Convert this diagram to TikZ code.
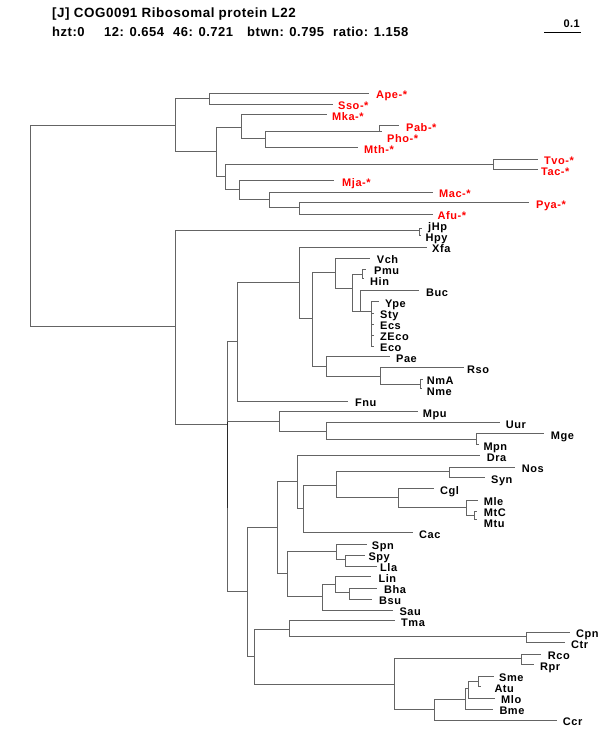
\documentclass[tikz,border=0pt]{standalone}
\usepackage{fontspec}
\setmainfont{Liberation Sans}
\newfontfamily\labfam[LetterSpace=5]{Liberation Sans}
\newfontfamily\headfam[LetterSpace=4]{Liberation Sans}
\definecolor{brgray}{RGB}{100,100,100}
\definecolor{brdark}{RGB}{40,40,40}
\tikzset{
  brline/.style={draw=brgray, line width=1.6pt},
  brdk/.style={draw=brdark, line width=1.6pt},
  lab/.style={anchor=base west, inner sep=0pt, font=\labfam\bfseries\fontsize{11}{13}\selectfont},
  arclab/.style={lab, text=red},
  baclab/.style={lab, text=black},
  head/.style={anchor=base west, inner sep=0pt, font=\headfam\bfseries\fontsize{13}{15}\selectfont},
}
\begin{document}
\begin{tikzpicture}[x=1pt,y=-1pt]
\fill[white] (0,0) rectangle (600,750);
\useasboundingbox (0,0) rectangle (600,750);

% header
\node[head, font=\headfam\bfseries\fontsize{13.4}{15}\selectfont] (title) at (52,17) {[J] COG0091 Ribosomal protein L22};
\node[head] (h1) at (52,36) {hzt:0};
\node[head] (h2) at (104,36) {12: 0.654};
\node[head] (h3) at (173,36) {46: 0.721};
\node[head] (h4) at (247,36) {btwn: 0.795};
\node[head] (h5) at (333,36) {ratio: 1.158};
\coordinate (s1) at (544,32.5);
\coordinate (s2) at (581,32.5);
\draw[black, line width=1pt] (s1) -- (s2);
\node[anchor=base east, inner sep=0pt, font=\headfam\bfseries\fontsize{11}{13}\selectfont] (scl) at (580,27) {0.1};

% internal nodes
\foreach \n/\x/\y in {root/30/226, arch/175/125, bact/175/326.7,
  nAS/209/98.7, nA2/216/151.7, nMka/241/127, nPPM/265/138.7, nPP/379/131,
  nTvo/225.3/176.7, nTT/493.3/164, nMja/239/189.7, nMac/269/199.7, nPA/299/207.3,
  nHp/419.3/230, nB2/227.7/424, nProt/237.7/341.7, nXfa/299.3/282.7, nG/312.3/318.3,
  nVch/335.7/272.7, nEnt/352.7/288, nPH/362.5/274.7, nBuc/360.7/311, nYpe/371.7/311,
  nPae/326/366, nRso/380/376, nNm/420/384,
  nMoll/279/421, nUur/326/431, nMge/476.7/439,
  nGP/247.7/591.7, nFirm/277.7/527.7, nDra/297.3/481.7, nCy/303.3/508.3, nCA/336/485,
  nNS/449/471.7, nCgl/398.3/497.3, nMy/466/507.3, nMt/474.3/515.3,
  nLow/287.3/573.3, nStr/336/551.7, nSL/345/559.3, nBac/322.3/596.7, nLin/335/584.3, nBB/349/592.7,
  nTR/254.3/656, nTma/289/629, nCh/526/636.7, nAlpha/394.3/684, nRick/521/658.3,
  nAl2/434/709, nRh/465/699, nRh2/468/688.5, nSA/478.3/681,
  dk1/227.7/421, dk2/227.7/507}
  {\coordinate (\n) at ({floor(\x)+0.5},{floor(\y)+0.5});}

% leaf ends
\foreach \n/\x/\y in {Ape/368/93.3, Sso/332/104, Mka/326/114.3, Pab/398/125.7, Pho/381/131.7,
  Mth/357/147.7, Tvo/537/159, Tac/537/169.3, Mja/333/180.7, Mac/432/192, Pya/528.3/202.7,
  Afu/432/214, jHp/421.5/228.5, Hpy/420.5/235.5, Xfa/426/247.3, Vch/369/258.3,
  Pmu/365.5/269.3, Hin/363.5/278.5, Buc/418.3/290.7, Ype/378.3/301.7, Sty/373.5/313,
  Ecs/373.5/324, ZEco/373.5/335, Eco/373.5/346.5, Pae/389.3/356.7, Rso/463.3/367.7,
  NmA/422/379.5, Nme/421/388.5, Fnu/347.7/401, Mpu/417.7/411.7, Uur/499/422.3,
  Mge/543.3/433.3, Mpn/478.5/444, Dra/479.3/455.7, Nos/514.3/467.3, Syn/484/477.7,
  Cgl/433.3/488.3, Mle/477.5/500, MtC/476.5/511.5, Mtu/476/519.5, Cac/412.7/532.7,
  Spn/366.5/544, Spy/364.5/555.3, Lla/376/566, Lin/370/576.7, Bha/376.7/588.3,
  Bsu/371.7/599, Sau/392.7/610, Tma/394/620.7, Cpn/569.3/632.3, Ctr/564.3/642.7,
  Rco/540/654, Rpr/533.3/664.3, Sme/493.3/676, Atu/480.5/686.5, Mlo/494/698.3,
  Bme/492.7/709, Ccr/556/720}
  {\coordinate (l-\n) at ({floor(\x)+0.5},{floor(\y)+0.5});}

% branches
\foreach \p/\c in {root/arch, root/bact,
  arch/nAS, arch/nA2, nAS/l-Ape, nAS/l-Sso,
  nA2/nMka, nA2/nTvo, nMka/l-Mka, nMka/nPPM, nPPM/nPP, nPPM/l-Mth,
  nPP/l-Pab, nPP/l-Pho, nTvo/nTT, nTvo/nMja, nTT/l-Tvo, nTT/l-Tac,
  nMja/l-Mja, nMja/nMac, nMac/l-Mac, nMac/nPA, nPA/l-Pya, nPA/l-Afu,
  bact/nHp, bact/nB2, nHp/l-jHp, nHp/l-Hpy,
  nB2/nProt, nB2/nMoll, nB2/nGP,
  nProt/nXfa, nProt/l-Fnu, nXfa/l-Xfa, nXfa/nG, nG/nVch, nG/nPae,
  nVch/l-Vch, nVch/nEnt, nEnt/nPH, nEnt/nBuc, nPH/l-Pmu, nPH/l-Hin,
  nBuc/l-Buc, nBuc/nYpe, nYpe/l-Ype, nYpe/l-Sty, nYpe/l-Ecs, nYpe/l-ZEco, nYpe/l-Eco,
  nPae/l-Pae, nPae/nRso, nRso/l-Rso, nRso/nNm, nNm/l-NmA, nNm/l-Nme,
  nMoll/l-Mpu, nMoll/nUur, nUur/l-Uur, nUur/nMge, nMge/l-Mge, nMge/l-Mpn,
  nGP/nFirm, nGP/nTR, nFirm/nDra, nFirm/nLow, nDra/l-Dra, nDra/nCy,
  nCy/nCA, nCy/l-Cac, nCA/nNS, nCA/nCgl, nNS/l-Nos, nNS/l-Syn,
  nCgl/l-Cgl, nCgl/nMy, nMy/l-Mle, nMy/nMt, nMt/l-MtC, nMt/l-Mtu,
  nLow/nStr, nLow/nBac, nStr/l-Spn, nStr/nSL, nSL/l-Spy, nSL/l-Lla,
  nBac/nLin, nBac/l-Sau, nLin/l-Lin, nLin/nBB, nBB/l-Bha, nBB/l-Bsu,
  nTR/nTma, nTR/nAlpha, nTma/l-Tma, nTma/nCh, nCh/l-Cpn, nCh/l-Ctr,
  nAlpha/nRick, nAlpha/nAl2, nRick/l-Rco, nRick/l-Rpr,
  nAl2/nRh, nAl2/l-Ccr, nRh/nRh2, nRh/l-Bme, nRh2/nSA, nRh2/l-Mlo,
  nSA/l-Sme, nSA/l-Atu}
  {\draw[brline] (\p) |- (\c);}
\draw[brdk] (dk1) -- (dk2);

% archaeal labels
\foreach \n/\x/\i in {Ape/376/0, Sso/338/1, Mka/332/2, Pab/406/3, Pho/387/4, Mth/364/5,
  Tvo/544/6, Tac/541/7, Mja/342/8, Mac/439/9, Pya/536/10, Afu/437.5/11}
  {\node[arclab] (\n) at (\x,{98.3+11*\i}) {\n-*};}

% bacterial labels
\foreach \n/\x/\i in {jHp/428/12, Hpy/425.5/13, Xfa/432/14, Vch/376.7/15, Pmu/374/16,
  Hin/370/17, Buc/426/18, Ype/385/19, Sty/380/20, Ecs/380/21, ZEco/380/22, Eco/380/23,
  Pae/396/24, Rso/467/25, NmA/426.7/26, Nme/426.7/27, Fnu/355/28, Mpu/422.7/29,
  Uur/505.7/30, Mge/550.7/31, Mpn/483.3/32, Dra/486.7/33, Nos/521.7/34, Syn/491/35,
  Cgl/440/36, Mle/483.7/37, MtC/483.7/38, Mtu/483.7/39, Cac/419/40, Spn/371.7/41,
  Spy/368.3/42, Lla/380/43, Lin/378.3/44, Bha/384/45, Bsu/379/46, Sau/399.3/47,
  Tma/401/48, Cpn/576/49, Ctr/571/50, Rco/547.7/51, Rpr/540/52, Sme/499/53,
  Atu/494.3/54, Mlo/501/55, Bme/499.3/56, Ccr/562.7/57}
  {\node[baclab] (\n) at (\x,{98.3+11*\i}) {\n};}
\end{tikzpicture}
\end{document}
